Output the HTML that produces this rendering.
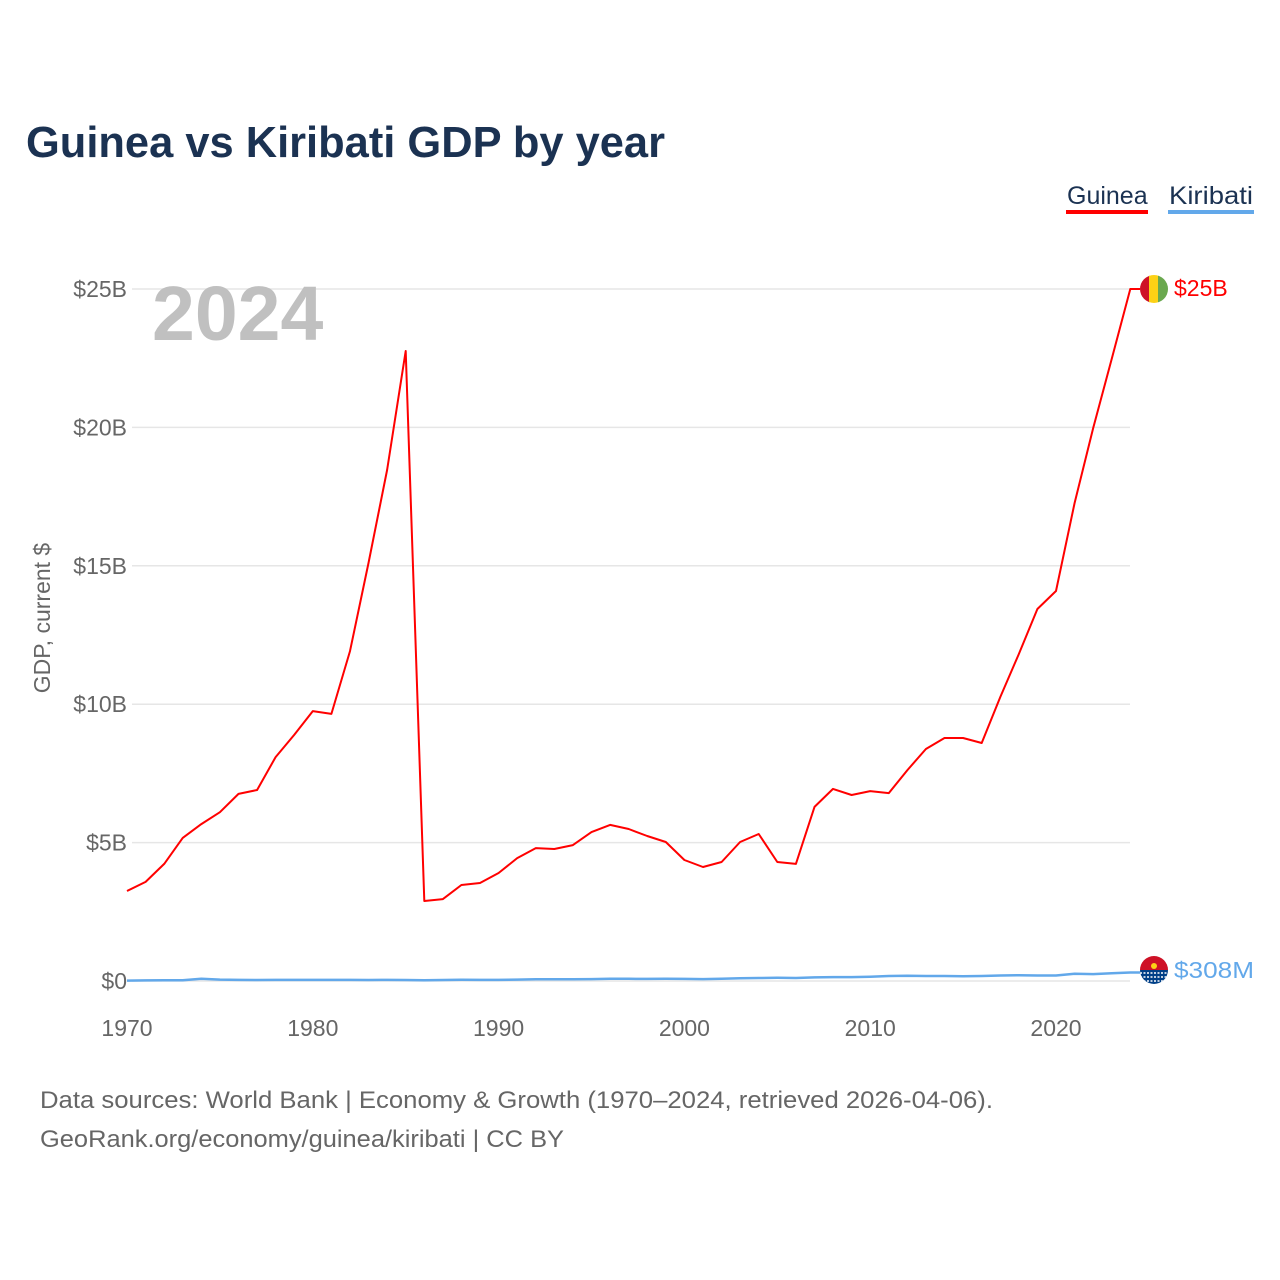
<!DOCTYPE html>
<html><head><meta charset="utf-8"><style>
html,body{margin:0;padding:0;background:#fff;width:1280px;height:1280px;overflow:hidden}
text{font-family:"Liberation Sans",sans-serif}
</style></head><body>
<svg id="chart" width="1280" height="1280" xmlns="http://www.w3.org/2000/svg">
<text x="26" y="157" font-size="43.5" font-weight="bold" fill="#1b3252" textLength="639" lengthAdjust="spacingAndGlyphs">Guinea vs Kiribati GDP by year</text>
<g><text x="1067" y="204" font-size="25" fill="#1b3252">Guinea</text><rect x="1066" y="210" width="82" height="4" fill="#ff0000"/></g>
<g><text x="1169" y="204" font-size="25" fill="#1b3252" textLength="84" lengthAdjust="spacingAndGlyphs">Kiribati</text><rect x="1168" y="210" width="86" height="4" fill="#62a8ea"/></g>
<text transform="translate(50,618) rotate(-90)" text-anchor="middle" font-size="23" fill="#666">GDP, current $</text>
<g id="grid"></g><g id="yticks"></g><g id="xticks"></g>
<text x="152" y="340" font-size="77" font-weight="bold" fill="#c0c0c0">2024</text>
<g id="lines"></g>
<g>
<clipPath id="cg"><circle cx="1154" cy="289" r="14"/></clipPath>
<g clip-path="url(#cg)"><rect x="1140" y="275" width="10" height="28" fill="#ce1126"/><rect x="1149" y="275" width="10" height="28" fill="#fcd116"/><rect x="1158" y="275" width="10" height="28" fill="#6aa84f"/></g></g>
<text x="1174" y="296" font-size="23" fill="#ff0000">$25B</text>
<g>
<clipPath id="ck"><circle cx="1154" cy="970" r="14"/></clipPath>
<g clip-path="url(#ck)"><rect x="1140" y="956" width="28" height="14" fill="#ce1126"/><rect x="1140" y="970" width="28" height="14" fill="#003f87"/>
<circle cx="1154" cy="966" r="3" fill="#fcd116"/>
<path d="M1140 973 h28 M1140 977 h28 M1140 981 h28" stroke="#fff" stroke-width="1.5" stroke-dasharray="2 1.5"/></g></g>
<text x="1174" y="978" font-size="23" fill="#62a8ea" textLength="80" lengthAdjust="spacingAndGlyphs">$308M</text>
<text x="40" y="1108" font-size="24.5" fill="#666" textLength="953" lengthAdjust="spacingAndGlyphs">Data sources: World Bank | Economy &amp; Growth (1970–2024, retrieved 2026-04-06).</text>
<text x="40" y="1147" font-size="24.5" fill="#666" textLength="524" lengthAdjust="spacingAndGlyphs">GeoRank.org/economy/guinea/kiribati | CC BY</text>
</svg>
<script>
const years=[];for(let y=1970;y<=2024;y++)years.push(y);
const guinea=[3.25,3.58,4.23,5.17,5.67,6.1,6.76,6.9,8.09,8.89,9.75,9.65,11.92,15.1,18.46,22.76,2.89,2.96,3.47,3.54,3.9,4.44,4.8,4.77,4.91,5.38,5.64,5.49,5.24,5.02,4.37,4.12,4.3,5.02,5.31,4.3,4.23,6.29,6.94,6.72,6.86,6.79,7.62,8.38,8.78,8.78,8.6,10.26,11.81,13.44,14.09,17.27,19.98,22.47,25.0];
const kiribati=[0.015,0.02,0.025,0.03,0.08,0.05,0.04,0.035,0.04,0.04,0.04,0.04,0.04,0.035,0.04,0.035,0.03,0.035,0.045,0.04,0.04,0.05,0.06,0.06,0.065,0.07,0.08,0.08,0.075,0.08,0.075,0.07,0.08,0.1,0.11,0.115,0.11,0.13,0.14,0.14,0.155,0.18,0.19,0.18,0.18,0.17,0.18,0.2,0.21,0.2,0.2,0.26,0.25,0.28,0.308];
const yTicks=[0,5,10,15,20,25];const yLabels=["$0","$5B","$10B","$15B","$20B","$25B"];
const xTicks=[1970,1980,1990,2000,2010,2020];
const NS="http://www.w3.org/2000/svg";
const xs=y=>127+(y-1970)*18.58;const ys=v=>981-v*27.68;
function mk(t,a,p){const e=document.createElementNS(NS,t);for(const k in a)e.setAttribute(k,a[k]);p.appendChild(e);return e;}
const g=document.getElementById('grid'),yt=document.getElementById('yticks'),xt=document.getElementById('xticks'),L=document.getElementById('lines');
yTicks.forEach((v,i)=>{const l=mk('line',{x1:132,x2:1130,y1:ys(v),y2:ys(v),stroke:'#e6e6e6','stroke-width':1.5},g);


const t=mk('text',{x:127,y:ys(v)+8,'text-anchor':'end','font-size':23,fill:'#666'},yt);t.textContent=yLabels[i];

});
xTicks.forEach(v=>{const t=mk('text',{x:xs(v),y:1036,'text-anchor':'middle','font-size':23,fill:'#666'},xt);t.textContent=v;

});
function line(d,c,n,ey){let s=d.map((v,i)=>(i?'L':'M')+xs(years[i]).toFixed(1)+' '+ys(v).toFixed(1)).join(' ');s+=' L1140 '+ey;
const p=mk('path',{d:s,fill:'none',stroke:c,'stroke-width':n=='kiribati-line'?2.5:2,'stroke-linejoin':'round'},L);

}
line(kiribati,'#62a8ea','kiribati-line',ys(kiribati[kiribati.length-1]).toFixed(1));
line(guinea,'#ff0000','guinea-line',ys(guinea[guinea.length-1]).toFixed(1));
</script>
</body></html>
